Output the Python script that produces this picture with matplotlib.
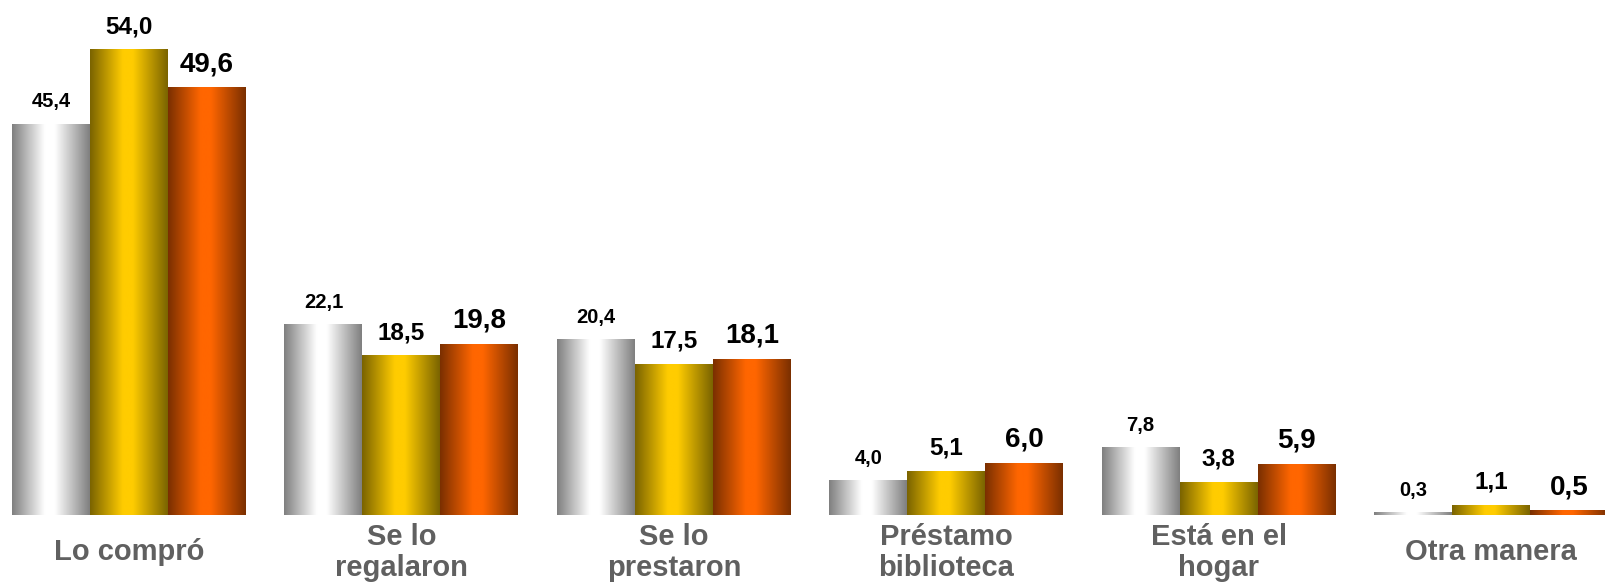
import numpy as np
import matplotlib.pyplot as plt
from matplotlib.colors import LinearSegmentedColormap

plt.rcParams['font.family'] = ['Liberation Sans', 'DejaVu Sans']

categorias = ["Lo compró", "Se lo\nregalaron", "Se lo\nprestaron",
              "Préstamo\nbiblioteca", "Está en el\nhogar", "Otra manera"]
serie_gris = [45.4, 22.1, 20.4, 4.0, 7.8, 0.3]
serie_oro = [54.0, 18.5, 17.5, 5.1, 3.8, 1.1]
serie_naranja = [49.6, 19.8, 18.1, 6.0, 5.9, 0.5]

series = [serie_gris, serie_oro, serie_naranja]
# (color oscuro del borde, color claro del centro)
gradientes = [("#7f7f7f", "#ffffff"), ("#7a6300", "#ffcc00"), ("#7a2f00", "#ff6600")]
tam_etiqueta = [14.5, 17.5, 20]

fig = plt.figure(figsize=(16.06, 5.83), dpi=100)
ax = fig.add_axes([0, 68 / 583, 1, 515 / 583])

x = np.arange(len(categorias))
ancho = 0.2863
grad = np.linspace(0, 1, 256).reshape(1, -1)

for i, valores in enumerate(series):
    oscuro, claro = gradientes[i]
    cmap = LinearSegmentedColormap.from_list(
        "g%d" % i, [(0, oscuro), (0.42, claro), (0.55, claro), (1, oscuro)])
    barras = ax.bar(x + (i - 1) * ancho, valores, ancho, color="none", linewidth=0)
    for b, v in zip(barras, valores):
        x0 = b.get_x()
        ax.imshow(grad, cmap=cmap, aspect="auto", interpolation="bilinear",
                  extent=[x0, x0 + b.get_width(), 0, b.get_height()], zorder=2)
        ax.annotate(("%.1f" % v).replace(".", ","), (b.get_x() + b.get_width() / 2, v),
                    xytext=(0, 12), textcoords="offset points", ha="center",
                    va="baseline", fontsize=tam_etiqueta[i], fontweight="bold",
                    color="black")

ax.set_xlim(-0.4736, 5.422)
ax.set_ylim(0, 59.8)
ax.set_xticks(x)
ax.set_xticklabels(categorias, fontsize=21, fontweight="bold", color="#606060",
                   va="center", linespacing=1.15)
ax.tick_params(axis="x", length=0, pad=27)
ax.set_yticks([])
for s in ax.spines.values():
    s.set_visible(False)

fig.savefig("out.png", dpi=100)
